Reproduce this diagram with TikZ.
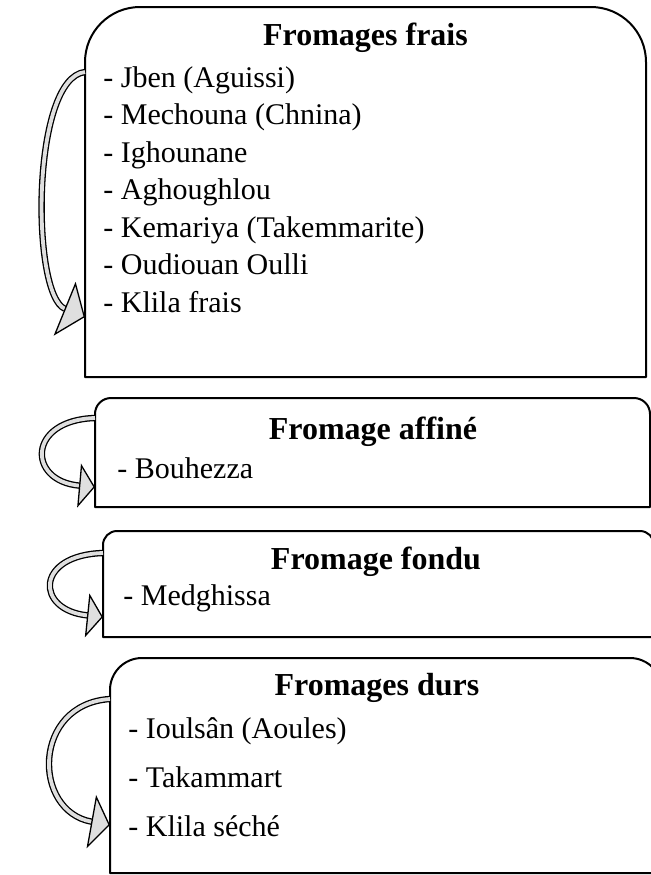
\documentclass[tikz,border=0pt]{standalone}
\usepackage{fontspec}
\setmainfont{Liberation Serif}
\usetikzlibrary{arrows.meta,calc}

% outline with the two top corners rounded
\newcommand{\tabbox}[2]{%
  \draw[tabline] (#1.south west) -- ([yshift=-#2]#1.north west)
    arc[start angle=180, end angle=90, radius=#2]
    -- ([xshift=-#2]#1.north east)
    arc[start angle=90, end angle=0, radius=#2]
    -- (#1.south east) -- cycle;}

\begin{document}
\begin{tikzpicture}[x=0.5pt, y=0.5pt,
  boxarea/.style={inner sep=0pt, outer sep=0pt},
  tabline/.style={line width=1pt, line join=round},
  title/.style={inner sep=0pt, font=\fontsize{16}{19}\selectfont\bfseries},
  items/.style={inner sep=0pt, align=left, anchor=west, font=\fontsize{15}{18.75}\selectfont},
  backarrow/.style 2 args={line width=0.65pt, double=gray!25, double distance=1.9pt,
    -{Triangle[line width=0.65pt, fill=gray!25, length=#1, width=#2]}}
]
\useasboundingbox (0,0) rectangle (651,-875);
\clip (0,0) rectangle (651,-875);

\node[boxarea, minimum width=280.5pt, minimum height=185pt] (frais) at (365.5,-192) {};
\node[boxarea, minimum width=277.5pt, minimum height=54.5pt] (affine) at (372.5,-452.5) {};
\node[boxarea, minimum width=275.5pt, minimum height=53pt] (fondu) at (378.5,-584) {};
\node[boxarea, minimum width=276pt, minimum height=107.5pt] (durs) at (386,-765.5) {};

\tabbox{frais}{27.5pt}
\tabbox{affine}{8pt}
\tabbox{fondu}{7pt}
\tabbox{durs}{16pt}

\node[title] (fraisT) at (365.5,-38) {Fromages frais};
\node[items] (fraisL) at (103,-189.5) {- Jben (Aguissi)\\- Mechouna (Chnina)\\- Ighounane\\- Aghoughlou\\- Kemariya (Takemmarite)\\- Oudiouan Oulli\\- Klila frais};

\node[title] (affineT) at (373,-432) {Fromage affiné};
\node[items] (affineL) at (117,-468) {- Bouhezza};

\node[title] (fonduT) at (376,-562) {Fromage fondu};
\node[items] (fonduL) at (123,-598) {- Medghissa};

\node[title] (dursT) at (377,-688) {Fromages durs};
\node[items, font=\fontsize{15}{24.5}\selectfont] (dursL) at (128,-777) {- Ioulsân (Aoules)\\- Takammart\\- Klila séché};

\draw[backarrow={11pt}{29pt}] ($(frais.north west)+(0,-65)$) .. controls +(-54,-6) and +(-54,22) .. ($(frais.north west)+(0,-310)$);
\draw[backarrow={8pt}{22pt}] ($(affine.north west)+(0,-20)$) .. controls +(-68,-2) and +(-68,6) .. ($(affine.north west)+(0,-89)$);
\draw[backarrow={8pt}{22pt}] ($(fondu.north west)+(0,-22)$) .. controls +(-68,-2) and +(-68,7) .. ($(fondu.north west)+(0,-86)$);
\draw[backarrow={9.5pt}{27pt}] ($(durs.north west)+(0,-41)$) .. controls +(-78,-5) and +(-78,14) .. ($(durs.north west)+(0,-167)$);
\end{tikzpicture}
\end{document}
